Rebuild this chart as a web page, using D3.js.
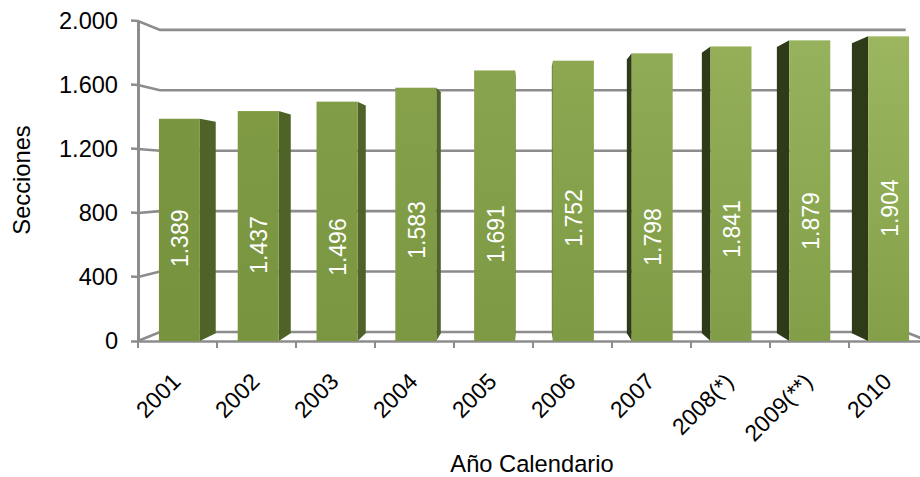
<!DOCTYPE html>
<html><head><meta charset="utf-8">
<script src="https://cdn.jsdelivr.net/npm/d3@7"></script>
<style>html,body{margin:0;padding:0;background:#fff}svg{display:block}text{font-family:"Liberation Sans",Arial,sans-serif}</style>
</head><body><svg id="c" width="920" height="477"></svg>
<script>
const years=["2001","2002","2003","2004","2005","2006","2007","2008(*)","2009(**)","2010"];
const values=[1389,1437,1496,1583,1691,1752,1798,1841,1879,1904];
const valueLabels=["1.389","1.437","1.496","1.583","1.691","1.752","1.798","1.841","1.879","1.904"];
const labelLevels=[642,600,587,694,669,769,650,700,750,831];
const yTicks=[0,400,800,1200,1600,2000];
const yTickLabels=["0","400","800","1.200","1.600","2.000"];
const yTitle="Secciones", xTitle="Año Calendario";

const svg=d3.select("#c");
const y=d3.scaleLinear().domain([0,2000]).range([341,21]);
const xTick=d3.scaleLinear().domain([0,10]).range([138,928]);
const x=d3.scaleBand().domain(years).range([140,928]).paddingInner(0.48).paddingOuter(0.24);
const VX=530,VY=180,kBar=0.048,kGrid=0.056;
const back=(px,py,k)=>[px+(VX-px)*k,py+(VY-py)*k];

const defs=svg.append("defs");
const gridCol="#8c8c8c";
const lightA=d3.scaleLinear().domain([0,9]).range(["#7b9640","#9bb65f"]);
const lightB=d3.scaleLinear().domain([0,9]).range(["#78933e","#83a049"]);
years.forEach((d,i)=>{
  const g=defs.append("linearGradient").attr("id","g"+i).attr("x1",0).attr("x2",0).attr("y1",0).attr("y2",1);
  g.append("stop").attr("offset",0).attr("stop-color",lightA(i));
  g.append("stop").attr("offset",1).attr("stop-color",lightB(i));
});
// gridlines
const line=d3.line();
yTicks.forEach(t=>{
  const f=[138,y(t)];
  const b=back(138,y(t),kGrid);
  const e=back(928,y(t),kGrid);
  const pts=t===0?[f,b,e,[928,y(t)]]:[[131,y(t)-0.5],f,b,e];
  svg.append("path").attr("d",line(pts)).attr("fill","none").attr("stroke",gridCol).attr("stroke-width",2.6);
});
// axes
svg.append("line").attr("x1",138.5).attr("x2",138.5).attr("y1",y(2000)).attr("y2",y(0)).attr("stroke",gridCol).attr("stroke-width",3);
svg.append("line").attr("x1",131).attr("x2",920).attr("y1",y(0)+.5).attr("y2",y(0)+.5).attr("stroke",gridCol).attr("stroke-width",2.6);
d3.range(0,11).forEach(i=>{
  svg.append("line").attr("x1",xTick(i)).attr("x2",xTick(i)).attr("y1",y(0)).attr("y2",y(0)+7).attr("stroke",gridCol).attr("stroke-width",2);
});
// bars
years.forEach((d,i)=>{
  const v=values[i],x0=x(d),x1=x0+x.bandwidth(),yT=y(v),yB=y(0);
  const sx=(x0+x1)/2<VX?x1:x0;
  const a=back(sx,yT,kBar),b=back(sx,yB,kBar);
  const dark=(i===4||i===5)?"#667f33":(i<5?"#4f6228":"#2f3b18");
  svg.append("path").attr("d",line([[sx,yT],a,b,[sx,yB]])+"Z").attr("fill",dark);
  svg.append("rect").attr("x",x0).attr("y",yT).attr("width",x.bandwidth()).attr("height",yB-yT).attr("fill",`url(#g${i})`);
  const cy=y(labelLevels[i]),cx=x0+x.bandwidth()/2;
  svg.append("text").attr("transform",`translate(${cx+9},${cy}) rotate(-90)`).attr("text-anchor","middle").attr("fill","#fff").attr("font-size",23).text(valueLabels[i]);
});
// tick labels
yTicks.forEach((t,i)=>{
  svg.append("text").attr("x",118).attr("y",y(t)+8).attr("text-anchor","end").attr("fill","#000").attr("font-size",23.6).text(yTickLabels[i]);
});
years.forEach((d,i)=>{
  svg.append("text").attr("transform",`translate(${xTick(i+0.5)+4.5},383) rotate(-45)`).attr("text-anchor","end").attr("fill","#000").attr("font-size",23).text(d);
});
svg.append("text").attr("x",532).attr("y",471.5).attr("text-anchor","middle").attr("font-size",23.7).text(xTitle);
svg.append("text").attr("transform","translate(30,180) rotate(-90)").attr("text-anchor","middle").attr("font-size",23.7).text(yTitle);
</script></body></html>
